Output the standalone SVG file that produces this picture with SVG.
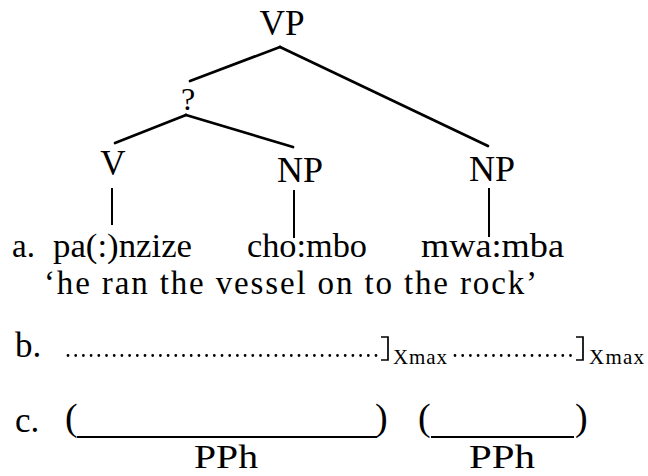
<svg xmlns="http://www.w3.org/2000/svg" width="648" height="476" viewBox="0 0 648 476">
  <style>
    text { font-family: "Liberation Serif", "Times New Roman", serif; fill: #000; }
    .lbl { font-size: 35px; }
    .word { font-size: 35px; }
    .row-a { font-size: 33px; }
    .pph { font-size: 33px; }
    .q { font-size: 32px; }
    .sub { font-size: 21px; }
    .paren { font-size: 38px; }
    .edge { stroke: #000; stroke-width: 2.7; fill: none; stroke-linecap: round; }
    .stem { stroke: #000; stroke-width: 2; fill: none; }
    .dots { stroke: #000; stroke-width: 2.8; stroke-linecap: round; stroke-dasharray: 0 7.7; fill: none; }
    .brk { stroke: #000; stroke-width: 1.7; fill: none; }
    .ul { stroke: #000; stroke-width: 2; }
  </style>
  <rect width="648" height="476" fill="#fff"/>

  <!-- tree branches and stems -->
  <g id="connectors">
    <line class="edge" x1="280" y1="47" x2="190" y2="81"/>
    <line class="edge" x1="280" y1="47" x2="488" y2="146"/>
    <line class="edge" x1="186" y1="115" x2="115" y2="143"/>
    <line class="edge" x1="186" y1="115" x2="293" y2="147"/>
    <line class="stem" x1="112" y1="188" x2="112" y2="225"/>
    <line class="stem" x1="294" y1="190" x2="294" y2="238"/>
    <line class="stem" x1="489" y1="188" x2="489" y2="237"/>
  </g>

  <!-- tree nodes -->
  <g id="node-vp"><text class="lbl" x="282" y="35" text-anchor="middle" textLength="45" lengthAdjust="spacingAndGlyphs">VP</text></g>
  <g id="node-q"><text class="q" x="188" y="110" text-anchor="middle">?</text></g>
  <g id="node-v"><text class="lbl" x="113" y="175" text-anchor="middle">V</text></g>
  <g id="node-np1"><text class="lbl" x="300" y="182" text-anchor="middle" textLength="46" lengthAdjust="spacingAndGlyphs">NP</text></g>
  <g id="node-np2"><text class="lbl" x="492" y="181" text-anchor="middle" textLength="46" lengthAdjust="spacingAndGlyphs">NP</text></g>

  <!-- (a) words and gloss -->
  <g id="line-a">
    <text class="row-a" x="12" y="257">a.</text>
    <text class="row-a" x="53" y="257" textLength="139" lengthAdjust="spacingAndGlyphs">pa(:)nzize</text>
    <text class="row-a" x="247" y="257" textLength="120" lengthAdjust="spacingAndGlyphs">cho:mbo</text>
    <text class="row-a" x="421" y="257" textLength="143" lengthAdjust="spacingAndGlyphs">mwa:mba</text>
    <text class="row-a" x="44" y="294" textLength="493">‘he ran the vessel on to the rock’</text>
  </g>

  <!-- (b) maximal projection edges -->
  <g id="line-b">
    <text class="word" x="15" y="357">b.</text>
    <line class="dots" x1="68" y1="355.5" x2="377" y2="355.5"/>
    <path class="brk" d="M381,337 H388 V360 H381"/>
    <text class="sub" x="393" y="364" textLength="54">Xmax</text>
    <line class="dots" x1="455" y1="355.5" x2="574" y2="355.5"/>
    <path class="brk" d="M576,337 H583 V360 H576"/>
    <text class="sub" x="589" y="364" textLength="55">Xmax</text>
  </g>

  <!-- (c) phonological phrases -->
  <g id="line-c">
    <text class="word" x="15" y="432">c.</text>
    <text class="paren" x="65" y="430">(</text>
    <line class="ul" x1="77" y1="437" x2="377" y2="437"/>
    <text class="paren" x="375" y="430">)</text>
    <text class="paren" x="418" y="430">(</text>
    <line class="ul" x1="431" y1="437" x2="574" y2="437"/>
    <text class="paren" x="575" y="430">)</text>
    <text class="pph" x="226" y="468" text-anchor="middle" textLength="64" lengthAdjust="spacingAndGlyphs">PPh</text>
    <text class="pph" x="502" y="468" text-anchor="middle" textLength="66" lengthAdjust="spacingAndGlyphs">PPh</text>
  </g>
</svg>
